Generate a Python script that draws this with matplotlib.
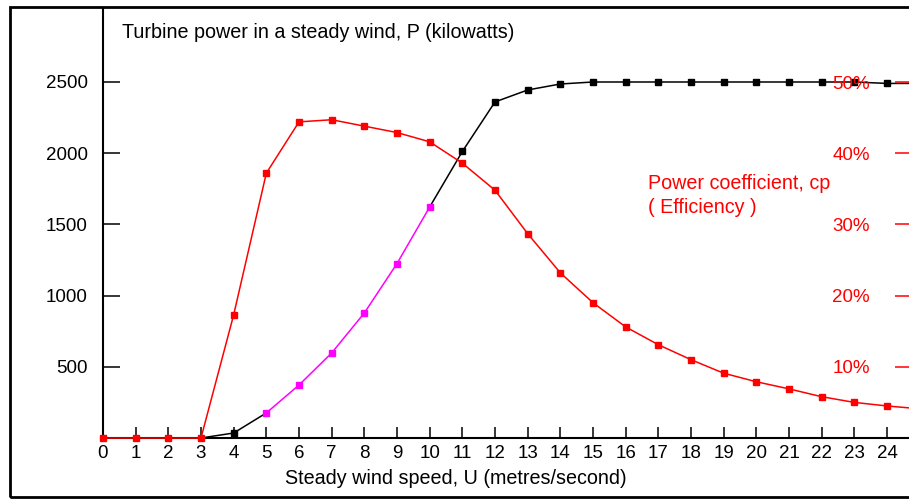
import matplotlib
matplotlib.use("Agg")
import matplotlib.pyplot as plt
from matplotlib.patches import Rectangle

plt.rcParams['font.family'] = ['Liberation Sans', 'DejaVu Sans']

# Wind speed (m/s), turbine output (kW) and power coefficient (%)
wind_speed = [0, 1, 2, 3, 4, 5, 6, 7, 8, 9, 10, 11, 12, 13, 14, 15, 16,
              17, 18, 19, 20, 21, 22, 23, 24, 25]
power_kw = [0, 0, 0, 0, 35, 176, 372, 597, 878, 1225, 1622, 2012, 2360,
            2444, 2486, 2500, 2500, 2500, 2500, 2500, 2500, 2500, 2500,
            2500, 2490, 2490]
cp_percent = [0, 0, 0, 0, 17.3, 37.2, 44.4, 44.7, 43.8, 42.9, 41.6, 38.6,
              34.8, 28.7, 23.2, 19.0, 15.6, 13.1, 11.0, 9.1, 7.9, 6.9, 5.8,
              5.0, 4.5, 4.1]
# speeds where the power curve is highlighted
highlight_start, highlight_end = 5, 10

x_ticks = list(range(0, 25))
power_ticks = [500, 1000, 1500, 2000, 2500]
cp_ticks = [10, 20, 30, 40, 50]
cp_tick_labels = ["10%", "20%", "30%", "40%", "50%"]

W, H = 909, 500
fig = plt.figure(figsize=(W / 100, H / 100), dpi=100)
fig.patch.set_facecolor('white')

left_px, bottom_px, top_px = 103, 438, 8
ax = fig.add_axes([left_px / W, 1 - bottom_px / H,
                   1 - left_px / W, (bottom_px - top_px) / H])

px_per_unit = (887 - 103) / 24.0
px_per_kw = (438 - 82) / 2500.0
xmax = (W - left_px) / px_per_unit
ymax = (bottom_px - top_px) / px_per_kw
ax.set_xlim(0, xmax)
ax.set_ylim(0, ymax)

fs = 13.5
fs_text = 14.2
lw = 1.1
ms = 4.2

i0 = wind_speed.index(highlight_start)
i1 = wind_speed.index(highlight_end)

# power curve: black outside the highlighted span, magenta inside
ax.plot(wind_speed[3:i0 + 1], power_kw[3:i0 + 1], color='black', lw=lw,
        zorder=3)
ax.plot(wind_speed[i1:], power_kw[i1:], color='black', lw=lw, zorder=3)
ax.plot(wind_speed[4:i0], power_kw[4:i0], 's', color='black', ms=ms,
        zorder=4)
ax.plot(wind_speed[i1 + 1:], power_kw[i1 + 1:], 's', color='black', ms=ms,
        zorder=4)
ax.plot(wind_speed[i0:i1 + 1], power_kw[i0:i1 + 1], '-s', color='magenta',
        lw=lw, ms=ms, zorder=4)

# power coefficient on the secondary scale
ax2 = ax.twinx()
ax2.set_ylim(0, ymax / 50.0)
ax2.plot(wind_speed, cp_percent, '-s', color='red', lw=lw, ms=ms,
         zorder=5, clip_on=False)
ax2.set_xlim(0, xmax)
for sp in ax2.spines.values():
    sp.set_visible(False)
ax2.set_yticks(cp_ticks)
ax2.set_yticklabels(cp_tick_labels)
ax2.tick_params(axis='y', direction='in', length=10, width=1.1,
                colors='red', labelsize=fs, pad=-28)
for lbl in ax2.get_yticklabels():
    lbl.set_horizontalalignment('right')

# primary axes styling
for name in ('top', 'right'):
    ax.spines[name].set_visible(False)
for name in ('left', 'bottom'):
    ax.spines[name].set_linewidth(1.5)
    ax.spines[name].set_color('black')
ax.set_xticks(x_ticks)
ax.set_yticks(power_ticks)
ax.tick_params(axis='x', direction='in', length=8, width=1.1,
               labelsize=fs, pad=5, colors='black')
ax.tick_params(axis='y', direction='in', length=12, width=1.1,
               labelsize=fs, pad=11, colors='black')
ax.set_zorder(ax2.get_zorder() - 1)
ax.patch.set_visible(True)
ax2.patch.set_visible(False)

ax.set_xlabel("Steady wind speed, U (metres/second)", fontsize=fs_text)
ax.xaxis.set_label_coords((456 - left_px) / (W - left_px), -0.073)

ax.text(0.024, 0.944, "Turbine power in a steady wind, P (kilowatts)",
        transform=ax.transAxes, fontsize=fs_text, va='center', ha='left')
ax.text(0.676, 0.593, "Power coefficient, cp", transform=ax.transAxes,
        fontsize=fs_text, va='center', ha='left', color='red')
ax.text(0.676, 0.537, "( Efficiency )", transform=ax.transAxes,
        fontsize=fs_text, va='center', ha='left', color='red')

# outer frame
fig.add_artist(Rectangle((9.5 / W, 3 / H), 1.2, (493 - 3) / H,
                         transform=fig.transFigure, fill=False,
                         lw=2.0, ec='black', clip_on=False))

fig.savefig("out.png", dpi=100)
